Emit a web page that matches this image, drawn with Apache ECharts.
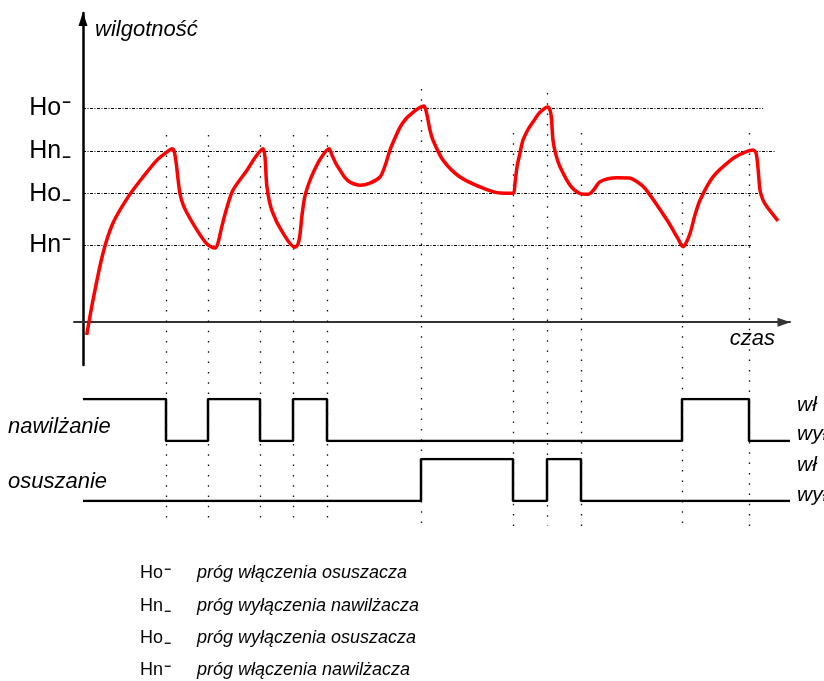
<!DOCTYPE html>
<html>
<head>
<meta charset="utf-8">
<script src="https://cdn.jsdelivr.net/npm/echarts@6/dist/echarts.min.js"></script>
<style>html,body{margin:0;padding:0;background:#fff}#c{width:824px;height:681px}</style>
</head>
<body>
<div id="c"></div>
<script>
// ---------- DATA ----------
// humidity curve: [time, humidity]
const humidityCurve = [
  [3.7,-6],[10,10.3],[20,32.2],[30,46.3],[45,58.4],[60,67.8],[74,75.7],[84,79.5],[89,81],
  [91,80],[93,75],[95,67],[97,60],[100,55],[104,51],[114,43],[124,36.5],[132,34.6],[135,37],[139,45],[144,53.7],[150,61.7],[164,71],[173,77.5],[180,81],
  [182,77],[184,63],[189,52],[200,41.6],[212,35],[215,36.5],[217,41],[219,50],[222,59],[226,65],[230,69.6],[237,76],[246,81],
  [249,78],[253,74],[257,71],[262,67.5],[267,65.4],[277,64],[287,65],[297,67.8],[302,73],[307,80.4],[312,86],[317,91],[323,95],[330,98],[336,100],[341,101],
  [344,96.7],[347,89.7],[350,85],[360,75.7],[377,67.8],[400,62.6],[417,60.3],[430,60.2],
  [432,65],[434,72.5],[437,79],[440,85],[445,90],[450,93.5],[457,98],[465,100.5],
  [468,97],[470,85],[473,78],[477,72.6],[487,64],[497,60.1],[505,59.7],[511,62],[517,65.6],[534,67.4],[546,67.3],[554,65.6],[562,62.5],[584,47.7],[595,39],[600,35.2],
  [603,37],[607,41.4],[612,50],[617,57],[630,67.9],[650,76.5],[660,79],[670,80.4],
  [673,79],[675,72],[677,61.7],[680,57],[684,53.9],[695,47.3]
];
// threshold levels (y-axis tick labels)
const thresholdNames  = ['Ho\u207B', 'Hn_', 'Ho_', 'Hn\u207B'];
const thresholdValues = [100, 80, 60, 36];
// switching instants
const eventTimes = [83, 125, 177, 210, 244, 338, 430, 464, 498, 599, 666];
// humidifier state (1 = wł, 0 = wył)
const humidifier = [[0,1],[83,0],[125,1],[177,0],[210,1],[244,0],[599,1],[666,0],[707,0]];
// dehumidifier state
const dehumidifier = [[0,0],[338,1],[430,0],[464,1],[498,0],[707,0]];
// legend descriptions
const legendSymbols = ['Ho\u207B', 'Hn_', 'Ho_', 'Hn\u207B'];
const legendTexts = ['próg włączenia osuszacza', 'próg wyłączenia nawilżacza', 'próg wyłączenia osuszacza', 'próg włączenia nawilżacza'];

// ---------- LAYOUT / STYLE ----------
const X_MIN = -9, X_MAX = 707;
const thresholdLineEnd = [680, 692, 679, 669];
const eventTop = [135, 135, 135, 135, 135, 89, 133, 93, 133, 192, 133];
const eventBottom = 526;
const FONT = "'Liberation Sans', Arial, Helvetica, sans-serif";

// turn "Ho⁻" / "Hn_" into rich text with a short thick bar placed high or low
function richMark(s) {
  const last = s.charAt(s.length - 1);
  const base = s.slice(0, -1);
  if (last === '_') return base + '{lo|\u2212}';
  if (last === '\u207B') return base + '{hi|\u2212}';
  return s;
}
const markStyle = (size, pad) => ({fontFamily: FONT, fontSize: size, fontWeight: 'bold', color: '#000', verticalAlign: 'top', padding: [pad, 0, 0, 1]});

const chart = echarts.init(document.getElementById('c'), null, {renderer: 'canvas'});

const baseX = (gi) => ({
  type: 'value', gridIndex: gi, min: X_MIN, max: X_MAX,
  axisLine: {show: false}, axisTick: {show: false}, axisLabel: {show: false}, splitLine: {show: false}
});

const option = {
  animation: false,
  backgroundColor: '#fff',
  grid: [
    {left: 74, right: 34, top: 13, bottom: 316, outerBoundsMode: 'none'},
    {left: 74, right: 34, top: 399, height: 42, outerBoundsMode: 'none'},
    {left: 74, right: 34, top: 459, height: 42, outerBoundsMode: 'none'},
    {left: 74, right: 34, top: 0, bottom: 0, outerBoundsMode: 'none'}
  ],
  xAxis: [
    {
      type: 'value', gridIndex: 0, min: X_MIN, max: X_MAX,
      name: 'czas', nameLocation: 'end', nameGap: -15,
      nameTextStyle: {fontFamily: FONT, fontStyle: 'italic', fontSize: 22, color: '#000', align: 'right', verticalAlign: 'top', padding: [6, 0, 0, 0]},
      axisLine: {show: true, onZero: true, symbol: ['none', 'triangle'], symbolSize: [9, 13], symbolOffset: [0, -6], lineStyle: {color: '#333', width: 2}},
      axisTick: {show: false}, axisLabel: {show: false}, splitLine: {show: false}
    },
    baseX(1), baseX(2), baseX(3)
  ],
  yAxis: [
    {
      type: 'value', gridIndex: 0, min: -20, max: 144.4,
      name: 'wilgotność', nameLocation: 'end', nameGap: -17,
      nameTextStyle: {fontFamily: FONT, fontStyle: 'italic', fontSize: 22, color: '#000', align: 'left', verticalAlign: 'middle', padding: [0, 0, 0, 12]},
      axisLine: {show: true, onZero: true, symbol: ['none', 'triangle'], symbolSize: [9, 14], symbolOffset: [0, -6], lineStyle: {color: '#000', width: 2.5}},
      axisTick: {show: false},
      splitLine: {show: false},
      axisLabel: {
        show: true, customValues: thresholdValues, margin: 3,
        fontFamily: FONT, fontSize: 25, color: '#000', lineHeight: 25,
        formatter: (v) => { const i = thresholdValues.indexOf(v); return i >= 0 ? richMark(thresholdNames[i]) : ''; },
        rich: {hi: markStyle(15, 0), lo: markStyle(15, 12)}
      }
    },
    {type: 'value', gridIndex: 1, min: 0, max: 1, show: false},
    {type: 'value', gridIndex: 2, min: 0, max: 1, show: false},
    {type: 'value', gridIndex: 3, min: 0, max: 681, inverse: true, show: false}
  ],
  graphic: [],
  series: [
    {
      name: 'zdarzenia', type: 'line', xAxisIndex: 3, yAxisIndex: 3, data: [], silent: true,
      markLine: {
        silent: true, symbol: ['none', 'none'], label: {show: false},
        lineStyle: {color: '#111', width: 1.3, type: [1.5, 8.8]},
        data: eventTimes.map((t, i) => [{coord: [t, eventTop[i]]}, {coord: [t, eventBottom]}])
      }
    },
    {
      name: 'progi', type: 'line', xAxisIndex: 0, yAxisIndex: 0, data: [], silent: true,
      markLine: {
        silent: true, symbol: ['none', 'none'], label: {show: false},
        lineStyle: {color: '#000', width: 1.1, type: [3, 1.5, 1, 1.5]},
        data: thresholdValues.map((v, i) => [{coord: [0, v]}, {coord: [thresholdLineEnd[i], v]}])
      }
    },
    {
      name: 'wilgotność', type: 'line', xAxisIndex: 0, yAxisIndex: 0, data: humidityCurve,
      smooth: 0.3, symbol: 'none', z: 5,
      lineStyle: {color: '#ff0000', width: 3.5}
    },
    {
      name: 'nawilżanie', type: 'line', xAxisIndex: 1, yAxisIndex: 1, data: humidifier,
      step: 'end', symbol: 'none', lineStyle: {color: '#000', width: 2.5}
    },
    {
      name: 'osuszanie', type: 'line', xAxisIndex: 2, yAxisIndex: 2, data: dehumidifier,
      step: 'end', symbol: 'none', lineStyle: {color: '#000', width: 2.5}
    }
  ]
};

// free text labels
const txt = (x, y, s, opt) => ({type: 'text', x: x, y: y, style: Object.assign({text: s, fill: '#000', font: 'italic 22px ' + FONT, verticalAlign: 'middle', align: 'left'}, opt || {})});
option.graphic.push(txt(8, 427, 'nawilżanie'));
option.graphic.push(txt(8, 482, 'osuszanie'));
option.graphic.push(txt(797, 405, 'wł', {font: 'italic 21px ' + FONT}));
option.graphic.push(txt(797, 434, 'wył', {font: 'italic 21px ' + FONT}));
option.graphic.push(txt(797, 465, 'wł', {font: 'italic 21px ' + FONT}));
option.graphic.push(txt(797, 495, 'wył', {font: 'italic 21px ' + FONT}));
const rowsY = [573, 606, 638, 670];
const legendRich = {
  hi: {fontFamily: FONT, fontSize: 12, fontWeight: 'bold', fill: '#000', verticalAlign: 'top', padding: [0, 0, 0, 1]},
  lo: {fontFamily: FONT, fontSize: 12, fontWeight: 'bold', fill: '#000', verticalAlign: 'top', padding: [9, 0, 0, 1]}
};
legendSymbols.forEach((s, i) => {
  option.graphic.push({type: 'text', x: 140, y: rowsY[i], style: {text: richMark(s), fill: '#000', fontFamily: FONT, fontSize: 18, lineHeight: 18, verticalAlign: 'middle', align: 'left', rich: legendRich}});
  option.graphic.push(txt(197, rowsY[i], legendTexts[i], {font: 'italic 18px ' + FONT}));
});

chart.setOption(option);
</script>
</body>
</html>
